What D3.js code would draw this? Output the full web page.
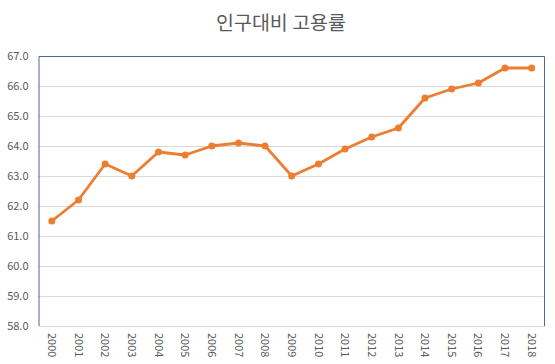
<!DOCTYPE html>
<html>
<head>
<meta charset="utf-8">
<script src="https://cdn.jsdelivr.net/npm/d3@7"></script>
<style>
  body { margin: 0; background: #fff; }
  text { font-family: "Noto Sans CJK KR", "Noto Sans", sans-serif; }
</style>
</head>
<body>
<div id="chart"></div>
<script>
// data
var years = ["2000", "2001", "2002", "2003", "2004", "2005", "2006", "2007", "2008", "2009",
             "2010", "2011", "2012", "2013", "2014", "2015", "2016", "2017", "2018"]
var rates = [61.5, 62.2, 63.4, 63.0, 63.8, 63.7, 64.0, 64.1, 64.0, 63.0,
             63.4, 63.9, 64.3, 64.6, 65.6, 65.9, 66.1, 66.6, 66.6]
var yTicks = [58, 59, 60, 61, 62, 63, 64, 65, 66, 67]
var title = "인구대비 고용률"

var width = 555, height = 364
var margin = { top: 56, right: 10, bottom: 38, left: 38.5 }
var innerW = 545 - margin.left, innerH = 326 - margin.top

var svg = d3.select("#chart").append("svg")
    .attr("width", width)
    .attr("height", height)

svg.append("text")
    .attr("x", 281)
    .attr("y", 30)
    .attr("text-anchor", "middle")
    .attr("font-size", 19.5)
    .attr("fill", "#595959")
    .text(title)

var g = svg.append("g")
    .attr("transform", "translate(" + margin.left + "," + margin.top + ")")

var x = d3.scaleBand().domain(years).range([0, innerW])
var y = d3.scaleLinear().domain([58, 67]).range([innerH, 0])

// gridlines
g.selectAll(".grid")
    .data(yTicks)
    .enter().append("line")
    .attr("x1", 0).attr("x2", innerW)
    .attr("y1", function (d) { return Math.round(y(d)) + 0.5 })
    .attr("y2", function (d) { return Math.round(y(d)) + 0.5 })
    .attr("stroke", "#d9d9d9")
    .attr("stroke-width", 1)

// plot area frame (left, top, right)
g.append("path")
    .attr("d", "M0.5," + innerH + "V0.5H" + (innerW - 0.5) + "V" + innerH)
    .attr("fill", "none")
    .attr("stroke", "#4a66a6")
    .attr("stroke-width", 1)

// y labels
g.selectAll(".ylab")
    .data(yTicks)
    .enter().append("text")
    .attr("x", -10)
    .attr("y", function (d) { return y(d) })
    .attr("dy", "0.35em")
    .attr("text-anchor", "end")
    .attr("font-size", 11)
    .attr("fill", "#595959")
    .text(function (d) { return d.toFixed(1) })

// x labels, rotated
g.selectAll(".xlab")
    .data(years)
    .enter().append("text")
    .attr("transform", function (d) {
        return "translate(" + (x(d) + x.bandwidth() / 2) + "," + (innerH + 7) + ") rotate(90)"
    })
    .attr("dy", "0.35em")
    .attr("text-anchor", "start")
    .attr("font-size", 11)
    .attr("fill", "#595959")
    .text(function (d) { return d })

var line = d3.line()
    .x(function (d, i) { return x(years[i]) + x.bandwidth() / 2 })
    .y(function (d) { return y(d) })

g.append("path")
    .datum(rates)
    .attr("d", line)
    .attr("fill", "none")
    .attr("stroke", "#ED7D31")
    .attr("stroke-width", 2.8)
    .attr("stroke-linejoin", "round")

g.selectAll(".dot")
    .data(rates)
    .enter().append("circle")
    .attr("cx", function (d, i) { return x(years[i]) + x.bandwidth() / 2 })
    .attr("cy", function (d) { return y(d) })
    .attr("r", 3.5)
    .attr("fill", "#ED7D31")
</script>
</body>
</html>
